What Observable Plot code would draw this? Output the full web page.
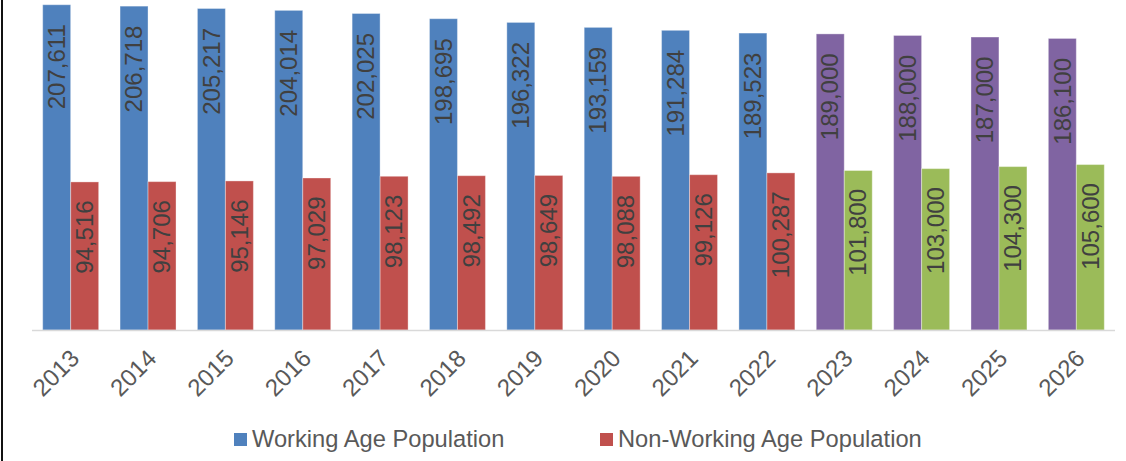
<!DOCTYPE html>
<html>
<head>
<meta charset="utf-8">
<script src="https://cdn.jsdelivr.net/npm/d3@7"></script>
<script src="https://cdn.jsdelivr.net/npm/@observablehq/plot@0.6"></script>
<style>
  html, body { margin: 0; padding: 0; background: #fff; }
  body { width: 1126px; height: 461px; position: relative; overflow: hidden; font-family: "Liberation Sans", Arial, sans-serif; }
  #chart { position: absolute; left: 0; top: 0; }
  #border { position: absolute; left: 1px; top: 0; width: 2px; height: 461px; background: #111; }
  .leg { position: absolute; top: 426px; display: flex; align-items: center; font-size: 23.7px; line-height: 27px; color: #595959; white-space: nowrap; }
  .sw { width: 13px; height: 13px; margin-right: 5px; }
</style>
</head>
<body>
<div id="chart"></div>
<div id="border"></div>
<div id="legend"></div>
<script>
const years = ["2013","2014","2015","2016","2017","2018","2019","2020","2021","2022","2023","2024","2025","2026"];
const working = [207611, 206718, 205217, 204014, 202025, 198695, 196322, 193159, 191284, 189523, 189000, 188000, 187000, 186100];
const nonWorking = [94516, 94706, 95146, 97029, 98123, 98492, 98649, 98088, 99126, 100287, 101800, 103000, 104300, 105600];
const forecastYears = ["2023","2024","2025","2026"];
const seriesNames = ["Working Age Population", "Non-Working Age Population"];
const actualColors = ["#4F81BD", "#C0504D"];
const forecastColors = ["#8064A2", "#9BBB59"];

const fmt = d3.format(",");
const W = years.map((y, i) => ({year: y, value: working[i], color: forecastYears.includes(y) ? forecastColors[0] : actualColors[0]}));
const N = years.map((y, i) => ({year: y, value: nonWorking[i], color: forecastYears.includes(y) ? forecastColors[1] : actualColors[1]}));

const plot = Plot.plot({
  width: 1126,
  height: 410,
  marginLeft: 32,
  marginRight: 11,
  marginTop: 1,
  marginBottom: 80,
  style: {fontFamily: "Liberation Sans, Arial, sans-serif", background: "transparent"},
  x: {domain: years, padding: 0, round: false, label: null, axis: null},
  y: {domain: [0, 210000], axis: null},
  marks: [
    Plot.barY(W, {x: "year", y: "value", fill: "color", insetLeft: 10.7, insetRight: 38.7, stroke: "#fff", strokeOpacity: 0.35, strokeWidth: 1}),
    Plot.barY(N, {x: "year", y: "value", fill: "color", insetLeft: 38.7, insetRight: 10.7, stroke: "#fff", strokeOpacity: 0.35, strokeWidth: 1}),
    Plot.ruleY([0], {stroke: "#D9D9D9", strokeWidth: 1.5}),
    Plot.axisX({tickSize: 0, tickRotate: -45, tickPadding: 14, fontSize: 24, fill: "#595959", label: null, dx: 4, dy: 10}),
    Plot.text(W, {x: "year", y: "value", text: d => fmt(d.value), rotate: -90, textAnchor: "end", lineAnchor: "middle", dx: -14, dy: 19, fontSize: 24, fill: "#404040"}),
    Plot.text(N, {x: "year", y: "value", text: d => fmt(d.value), rotate: -90, textAnchor: "end", lineAnchor: "middle", dx: 14, dy: 18, fontSize: 24, fill: "#404040"})
  ]
});
document.getElementById("chart").appendChild(plot);

const legend = document.getElementById("legend");
const legLefts = [234, 600];
seriesNames.forEach((name, i) => {
  const item = document.createElement("div");
  item.className = "leg";
  item.style.left = legLefts[i] + "px";
  item.innerHTML = `<div class="sw" style="background:${actualColors[i]}"></div><span>${name}</span>`;
  legend.appendChild(item);
});
</script>
</body>
</html>
